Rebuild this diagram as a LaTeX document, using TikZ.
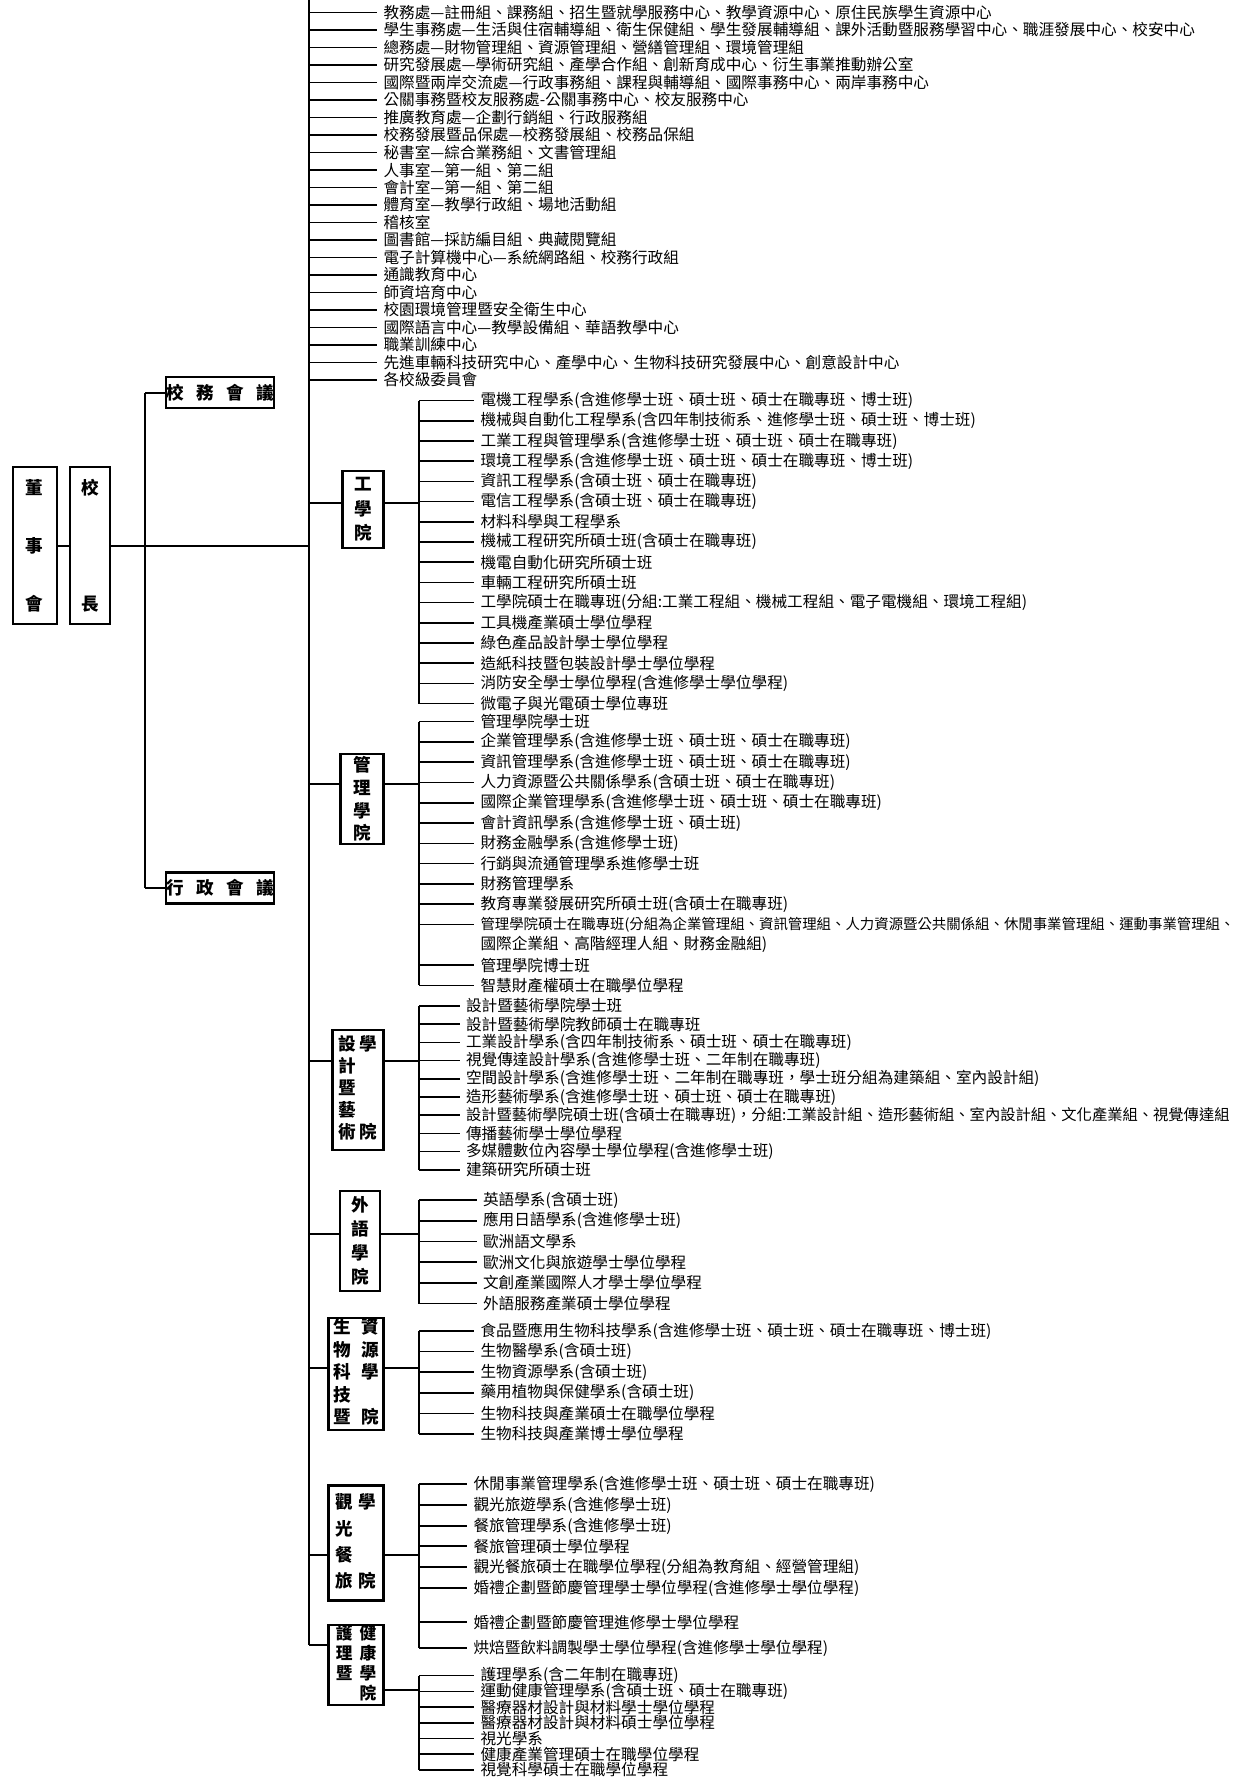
\documentclass[tikz,border=0pt]{standalone}
\usepackage{fontspec}
\newfontfamily\cjk{Noto Sans CJK TC}
\usetikzlibrary{positioning}

\begin{document}
\begin{tikzpicture}[x=0.02cm, y=-0.02cm,
    box/.style={draw, line width=1.2pt, inner sep=0pt, align=center, font=\cjk\bfseries\fontsize{10}{13}\selectfont},
    item/.style={anchor=west, inner xsep=3.5pt, inner ysep=1pt, font=\cjk\fontsize{8.9}{10}\selectfont},
    line/.style={line width=0.9pt},
    bus/.style={line width=1.3pt},
]
\useasboundingbox (0,0) rectangle (1257,1779);

% Board, president, councils
\node[box, minimum width=0.88cm, minimum height=3.14cm, font=\cjk\bfseries\fontsize{10}{33}\selectfont] (board) at (34.6,545.7) {董\\事\\會};
\node[box, minimum width=0.8cm, minimum height=3.14cm, font=\cjk\bfseries\fontsize{10}{33}\selectfont] (pres) at (90,545.7) {校\\[33pt]長};
\draw[line] (board) -- (pres);

\coordinate (ttop) at (309,0);
\coordinate (tbot) at (309,1645);
\draw[bus] (ttop) -- (tbot);
\draw[line] (pres) -- (pres -| ttop);

\coordinate (cbus) at (145,0);
\node[box, minimum width=2.08cm, minimum height=0.62cm] (council) at (220,392.8) {校\hspace{0.7em}務\hspace{0.7em}會\hspace{0.7em}議};
\node[box, minimum width=2.08cm, minimum height=0.62cm] (admin) at (220,888) {行\hspace{0.7em}政\hspace{0.7em}會\hspace{0.7em}議};
\draw[bus] (council.west -| cbus) -- (admin.west -| cbus);
\draw[line] (council.west -| cbus) -- (council.west);
\draw[line] (admin.west -| cbus) -- (admin.west);

% Administrative units
\foreach \t [count=\n] in {
    {教務處—註冊組、課務組、招生暨就學服務中心、教學資源中心、原住民族學生資源中心},
    {學生事務處—生活與住宿輔導組、衛生保健組、學生發展輔導組、課外活動暨服務學習中心、職涯發展中心、校安中心},
    {總務處—財物管理組、資源管理組、營繕管理組、環境管理組},
    {研究發展處—學術研究組、產學合作組、創新育成中心、衍生事業推動辦公室},
    {國際暨兩岸交流處—行政事務組、課程與輔導組、國際事務中心、兩岸事務中心},
    {公關事務暨校友服務處-公關事務中心、校友服務中心},
    {推廣教育處—企劃行銷組、行政服務組},
    {校務發展暨品保處—校務發展組、校務品保組},
    {秘書室—綜合業務組、文書管理組},
    {人事室—第一組、第二組},
    {會計室—第一組、第二組},
    {體育室—教學行政組、場地活動組},
    {稽核室},
    {圖書館—採訪編目組、典藏閱覽組},
    {電子計算機中心—系統網路組、校務行政組},
    {通識教育中心},
    {師資培育中心},
    {校園環境管理暨安全衛生中心},
    {國際語言中心—教學設備組、華語教學中心},
    {職業訓練中心},
    {先進車輛科技研究中心、產學中心、生物科技研究發展中心、創意設計中心},
    {各校級委員會}}
  \node[item] (off-\n) at (377,{12.5+(\n-1)*17.5}) {\t};
\foreach \n in {1,...,22}
  \draw[line] (off-\n.west -| ttop) -- (off-\n.west);

\coordinate (dbus) at (419,0);

% College of Engineering
\node[box, minimum width=0.82cm, minimum height=1.54cm, font=\cjk\bfseries\fontsize{10}{13.9}\selectfont] (eng) at (363,509.5) {工\\學\\院};
\coordinate (eng-j) at (309,503);
\draw[line] (eng-j) -- (eng-j -| eng.west);
\draw[line] (eng-j -| eng.east) -- (eng-j -| dbus);
\foreach \t [count=\n] in {
    {電機工程學系(含進修學士班、碩士班、碩士在職專班、博士班)},
    {機械與自動化工程學系(含四年制技術系、進修學士班、碩士班、博士班)},
    {工業工程與管理學系(含進修學士班、碩士班、碩士在職專班)},
    {環境工程學系(含進修學士班、碩士班、碩士在職專班、博士班)},
    {資訊工程學系(含碩士班、碩士在職專班)},
    {電信工程學系(含碩士班、碩士在職專班)},
    {材料科學與工程學系},
    {機械工程研究所碩士班(含碩士在職專班)},
    {機電自動化研究所碩士班},
    {車輛工程研究所碩士班},
    {工學院碩士在職專班(分組:工業工程組、機械工程組、電子電機組、環境工程組)},
    {工具機產業碩士學位學程},
    {綠色產品設計學士學位學程},
    {造紙科技暨包裝設計學士學位學程},
    {消防安全學士學位學程(含進修學士學位學程)},
    {微電子與光電碩士學位專班}}
  \node[item] (eng-\n) at (474,{400.5+(\n-1)*20.2}) {\t};
\foreach \n in {1,...,16}
  \draw[line] (eng-\n.west -| dbus) -- (eng-\n.west);
\draw[bus] (eng-1.west -| dbus) -- (eng-16.west -| dbus);

% College of Management
\node[box, minimum width=0.86cm, minimum height=1.8cm, font=\cjk\bfseries\fontsize{10}{12.9}\selectfont] (mgt) at (362,799) {管\\理\\學\\院};
\coordinate (mgt-j) at (309,784);
\draw[line] (mgt-j) -- (mgt-j -| mgt.west);
\draw[line] (mgt-j -| mgt.east) -- (mgt-j -| dbus);
\foreach \n/\r/\t in {
    1/0/{管理學院學士班},
    2/1/{企業管理學系(含進修學士班、碩士班、碩士在職專班)},
    3/2/{資訊管理學系(含進修學士班、碩士班、碩士在職專班)},
    4/3/{人力資源暨公共關係學系(含碩士班、碩士在職專班)},
    5/4/{國際企業管理學系(含進修學士班、碩士班、碩士在職專班)},
    6/5/{會計資訊學系(含進修學士班、碩士班)},
    7/6/{財務金融學系(含進修學士班)},
    8/7/{行銷與流通管理學系進修學士班},
    9/8/{財務管理學系},
    10/9/{教育專業發展研究所碩士班(含碩士在職專班)},
    11/10/{\fontsize{8.2}{10}\selectfont 管理學院碩士在職專班(分組為企業管理組、資訊管理組、人力資源暨公共關係組、休閒事業管理組、運動事業管理組、},
    12/12/{管理學院博士班},
    13/13/{智慧財產權碩士在職學位學程}}
  \node[item] (mgt-\n) at (474,{721.5+\r*20.3}) {\t};
\node[item] (mgt-11b) at (474,{721.5+11*20.3}) {國際企業組、高階經理人組、財務金融組)};
\foreach \n in {1,...,13}
  \draw[line] (mgt-\n.west -| dbus) -- (mgt-\n.west);
\draw[bus] (mgt-1.west -| dbus) -- (mgt-13.west -| dbus);

% College of Design and Arts
\node[box, minimum width=1.02cm, minimum height=2.4cm, font=\cjk\bfseries\fontsize{10}{12.5}\selectfont] (des) at (358,1090)
  {\begin{tabular}{@{}c@{\hspace{2pt}}c@{}}設&學\\計&\\暨&\\藝&\\術&院\end{tabular}};
\coordinate (des-j) at (309,1061);
\draw[line] (des-j) -- (des-j -| des.west);
\draw[line] (des-j -| des.east) -- (des-j -| dbus);
\foreach \t [count=\n] in {
    {設計暨藝術學院學士班},
    {設計暨藝術學院教師碩士在職專班},
    {工業設計學系(含四年制技術系、碩士班、碩士在職專班)},
    {視覺傳達設計學系(含進修學士班、二年制在職專班)},
    {空間設計學系(含進修學士班、二年制在職專班，學士班分組為建築組、室內設計組)},
    {造形藝術學系(含進修學士班、碩士班、碩士在職專班)},
    {\fontsize{8.7}{10}\selectfont 設計暨藝術學院碩士班(含碩士在職專班)，分組:工業設計組、造形藝術組、室內設計組、文化產業組、視覺傳達組},
    {傳播藝術學士學位學程},
    {多媒體數位內容學士學位學程(含進修學士班)},
    {建築研究所碩士班}}
  \node[item] (des-\n) at (459.5,{1006+(\n-1)*18.2}) {\t};
\foreach \n in {1,...,10}
  \draw[line] (des-\n.west -| dbus) -- (des-\n.west);
\draw[bus] (des-1.west -| dbus) -- (des-10.west -| dbus);

% College of Foreign Languages
\node[box, minimum width=0.8cm, minimum height=2.0cm, font=\cjk\bfseries\fontsize{10}{13.6}\selectfont] (lan) at (360,1241) {外\\語\\學\\院};
\coordinate (lan-j) at (309,1234);
\draw[line] (lan-j) -- (lan-j -| lan.west);
\draw[line] (lan-j -| lan.east) -- (lan-j -| dbus);
\foreach \t [count=\n] in {
    {英語學系(含碩士班)},
    {應用日語學系(含進修學士班)},
    {歐洲語文學系},
    {歐洲文化與旅遊學士學位學程},
    {文創產業國際人才學士學位學程},
    {外語服務產業碩士學位學程}}
  \node[item] (lan-\n) at (476.5,{1200+(\n-1)*20.7}) {\t};
\foreach \n in {1,...,6}
  \draw[line] (lan-\n.west -| dbus) -- (lan-\n.west);
\draw[bus] (lan-1.west -| dbus) -- (lan-6.west -| dbus);

% College of Biotechnology and Bioresources
\node[box, minimum width=1.1cm, minimum height=2.24cm, font=\cjk\bfseries\fontsize{10}{12.8}\selectfont] (bio) at (356,1374)
  {\begin{tabular}{@{}c@{\hspace{6pt}}c@{}}生&資\\物&源\\科&學\\技&\\暨&院\end{tabular}};
\coordinate (bio-j) at (309,1368);
\draw[line] (bio-j) -- (bio-j -| bio.west);
\draw[line] (bio-j -| bio.east) -- (bio-j -| dbus);
\foreach \t [count=\n] in {
    {食品暨應用生物科技學系(含進修學士班、碩士班、碩士在職專班、博士班)},
    {生物醫學系(含碩士班)},
    {生物資源學系(含碩士班)},
    {藥用植物與保健學系(含碩士班)},
    {生物科技與產業碩士在職學位學程},
    {生物科技與產業博士學位學程}}
  \node[item] (bio-\n) at (474,{1331+(\n-1)*20.6}) {\t};
\foreach \n in {1,...,6}
  \draw[line] (bio-\n.west -| dbus) -- (bio-\n.west);
\draw[bus] (bio-1.west -| dbus) -- (bio-6.west -| dbus);

% College of Tourism and Hospitality
\node[box, minimum width=1.1cm, minimum height=2.3cm, font=\cjk\bfseries\fontsize{10}{15}\selectfont] (tou) at (356,1543)
  {\begin{tabular}{@{}c@{\hspace{3pt}}c@{}}觀&學\\光&\\餐&\\旅&院\end{tabular}};
\coordinate (tou-j) at (309,1555);
\draw[line] (tou-j) -- (tou-j -| tou.west);
\draw[line] (tou-j -| tou.east) -- (tou-j -| dbus);
\foreach \n/\y/\t in {
    1/1484/{休閒事業管理學系(含進修學士班、碩士班、碩士在職專班)},
    2/1505/{觀光旅遊學系(含進修學士班)},
    3/1526/{餐旅管理學系(含進修學士班)},
    4/1546/{餐旅管理碩士學位學程},
    5/1567/{觀光餐旅碩士在職學位學程(分組為教育組、經營管理組)},
    6/1588/{婚禮企劃暨節慶管理學士學位學程(含進修學士學位學程)},
    7/1622/{婚禮企劃暨節慶管理進修學士學位學程},
    8/1648/{烘焙暨飲料調製學士學位學程(含進修學士學位學程)}}
  \node[item] (tou-\n) at (467,\y) {\t};
\foreach \n in {1,...,8}
  \draw[line] (tou-\n.west -| dbus) -- (tou-\n.west);
\draw[bus] (tou-1.west -| dbus) -- (tou-8.west -| dbus);

% College of Nursing and Health
\node[box, minimum width=1.1cm, minimum height=1.4cm, font=\cjk\bfseries\fontsize{9.5}{10.5}\selectfont] (nur) at (356,1665)
  {\begin{tabular}{@{}c@{\hspace{4pt}}c@{}}護&健\\理&康\\暨&學\\&院\end{tabular}};
\coordinate (nur-j) at (309,1645);
\coordinate (nur-k) at (309,1690);
\draw[line] (nur-j) -- (nur-j -| nur.west);
\draw[line] (nur-k -| nur.east) -- (nur-k -| dbus);
\foreach \t [count=\n] in {
    {護理學系(含二年制在職專班)},
    {運動健康管理學系(含碩士班、碩士在職專班)},
    {醫療器材設計與材料學士學位學程},
    {醫療器材設計與材料碩士學位學程},
    {視光學系},
    {健康產業管理碩士在職學位學程},
    {視覺科學碩士在職學位學程}}
  \node[item] (nur-\n) at (474,{1675.6+(\n-1)*15.7}) {\t};
\foreach \n in {1,...,7}
  \draw[line] (nur-\n.west -| dbus) -- (nur-\n.west);
\draw[bus] (nur-1.west -| dbus) -- (nur-7.west -| dbus);
\end{tikzpicture}
\end{document}
